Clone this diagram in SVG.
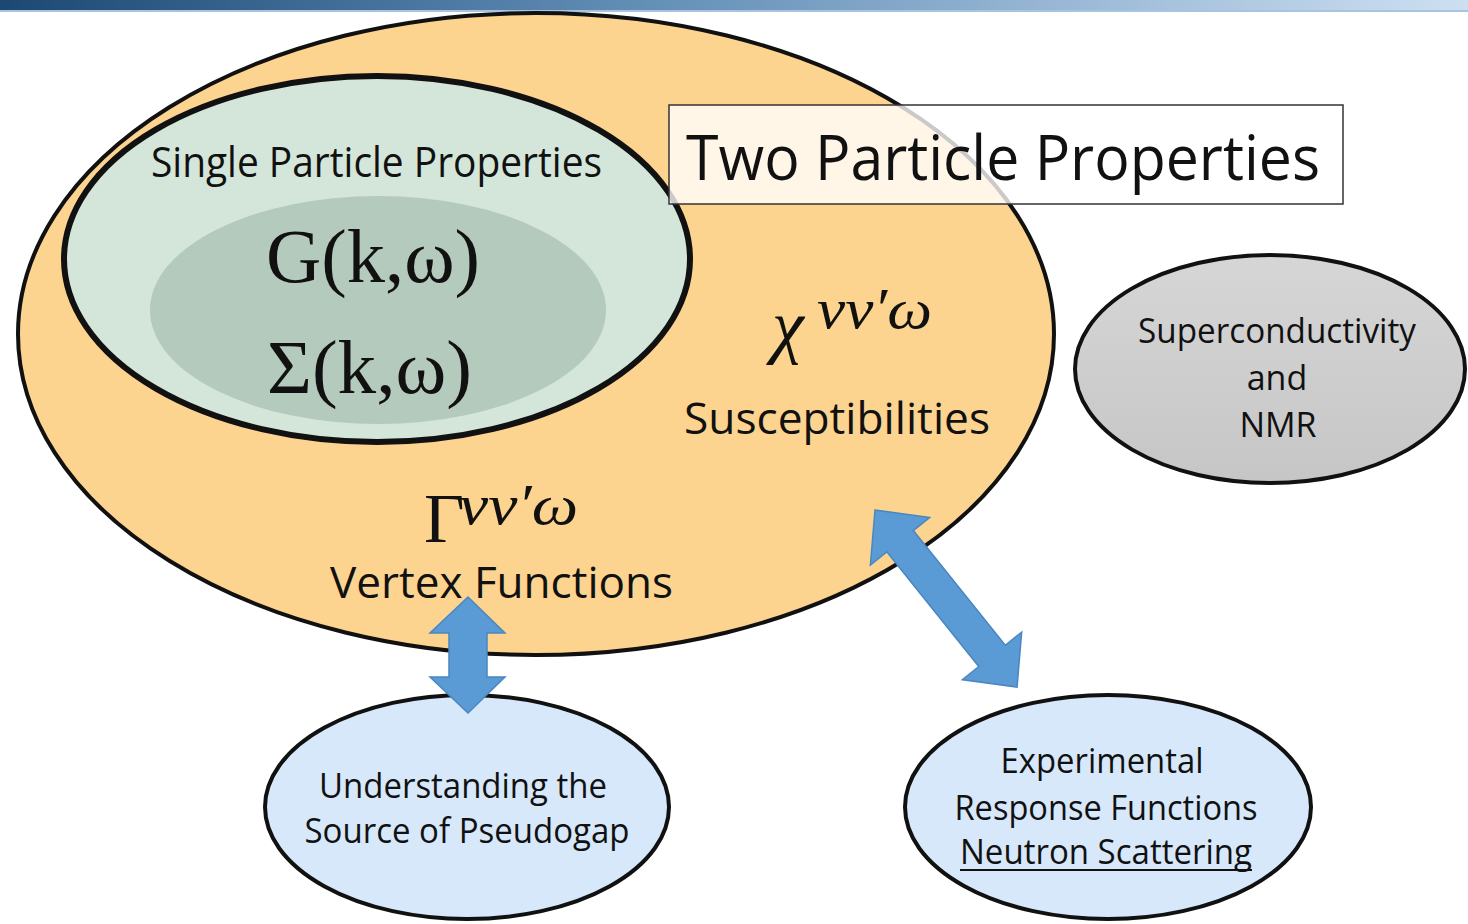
<svg xmlns="http://www.w3.org/2000/svg" width="1468" height="924" viewBox="0 0 1468 924">
<defs>
<linearGradient id="bar" x1="0" y1="0" x2="1" y2="0">
<stop offset="0" stop-color="#1c4874"/>
<stop offset="0.45" stop-color="#6590b8"/>
<stop offset="1" stop-color="#cde0f2"/>
</linearGradient>
<linearGradient id="gray" x1="0" y1="0" x2="0" y2="1">
<stop offset="0" stop-color="#d6d6d6"/>
<stop offset="1" stop-color="#c6c6c6"/>
</linearGradient>
<style>
.sans{font-family:"Open Sans","Liberation Sans",sans-serif;fill:#111;}
.serif{font-family:"Liberation Serif","DejaVu Serif",serif;fill:#111;}
.it{font-style:italic;}
.mid{text-anchor:middle;}
.arrow{fill:#5b9bd5;stroke:#4a86bf;stroke-width:1.5;stroke-linejoin:miter;}
.edge{stroke:#111;}
</style>
</defs>
<rect x="0" y="0" width="1468" height="924" fill="#ffffff"/>
<rect x="0" y="0" width="1468" height="10" fill="url(#bar)"/>
<rect x="0" y="10" width="1468" height="2" fill="#a9c4df"/>

<g id="two-particle">
<ellipse cx="536" cy="334" rx="518" ry="321" fill="#fcd490" class="edge" stroke-width="4"/>
<text class="serif it" x="772" y="350" font-size="72">χ</text>
<text class="serif it" x="817" y="328" font-size="56" textLength="115" lengthAdjust="spacingAndGlyphs">νν′ω</text>
<text class="sans" x="684" y="434" font-size="43" textLength="306" lengthAdjust="spacingAndGlyphs">Susceptibilities</text>
<text class="serif" x="424" y="542" font-size="70">Γ</text>
<text class="serif it" x="459" y="524" font-size="56" textLength="119" lengthAdjust="spacingAndGlyphs">νν′ω</text>
<text class="sans" x="330" y="598" font-size="43" textLength="343" lengthAdjust="spacingAndGlyphs">Vertex Functions</text>
</g>

<g id="single-particle">
<ellipse cx="377" cy="259" rx="313" ry="183" fill="#d4e5da" class="edge" stroke-width="6"/>
<ellipse cx="378" cy="310" rx="228" ry="114" fill="#b4cabc"/>
<text class="sans" x="151" y="177" font-size="42" textLength="451" lengthAdjust="spacingAndGlyphs">Single Particle Properties</text>
<text class="serif" x="266" y="282" font-size="76" textLength="214" lengthAdjust="spacingAndGlyphs">G(k,ω)</text>
<text class="serif" x="267" y="393" font-size="76" textLength="205" lengthAdjust="spacingAndGlyphs">Σ(k,ω)</text>
</g>

<g id="title-box">
<rect x="669" y="105" width="674" height="99" fill="#ffffff" fill-opacity="0.78" stroke="#333" stroke-width="1.5"/>
<text class="sans" x="686" y="180" font-size="62" textLength="634" lengthAdjust="spacingAndGlyphs">Two Particle Properties</text>
</g>

<g id="superconductivity">
<ellipse cx="1270" cy="369" rx="195" ry="114" fill="url(#gray)" class="edge" stroke-width="4"/>
<text class="sans mid" x="1277" y="343" font-size="34" textLength="278" lengthAdjust="spacingAndGlyphs">Superconductivity</text>
<text class="sans mid" x="1277" y="390" font-size="34">and</text>
<text class="sans mid" x="1278" y="437" font-size="34">NMR</text>
</g>

<g id="pseudogap">
<ellipse cx="467" cy="807" rx="202" ry="112" fill="#d6e8fa" class="edge" stroke-width="4"/>
<text class="sans mid" x="463" y="798" font-size="34" textLength="288" lengthAdjust="spacingAndGlyphs">Understanding the</text>
<text class="sans mid" x="467" y="843" font-size="34" textLength="325" lengthAdjust="spacingAndGlyphs">Source of Pseudogap</text>
</g>

<g id="experimental">
<ellipse cx="1108" cy="807" rx="203" ry="112" fill="#d6e8fa" class="edge" stroke-width="4"/>
<text class="sans mid" x="1102" y="773" font-size="34" textLength="203" lengthAdjust="spacingAndGlyphs">Experimental</text>
<text class="sans mid" x="1106" y="820" font-size="34" textLength="303" lengthAdjust="spacingAndGlyphs">Response Functions</text>
<text class="sans mid" x="1106" y="864" font-size="34" textLength="292" lengthAdjust="spacingAndGlyphs">Neutron Scattering</text>
<line x1="960" y1="870" x2="1252" y2="870" stroke="#111" stroke-width="2"/>
</g>

<g id="connectors">
<path class="arrow" d="M468,597 L505,633 L487,633 L487,677 L505,677 L468,713 L430,677 L449,677 L449,633 L430,633 Z"/>
<path class="arrow" transform="translate(875,510) rotate(51.26)" d="M0,0 L40,-38 L40,-17 L187,-17 L187,-38 L227,0 L187,38 L187,17 L40,17 L40,38 Z"/>
</g>
</svg>
